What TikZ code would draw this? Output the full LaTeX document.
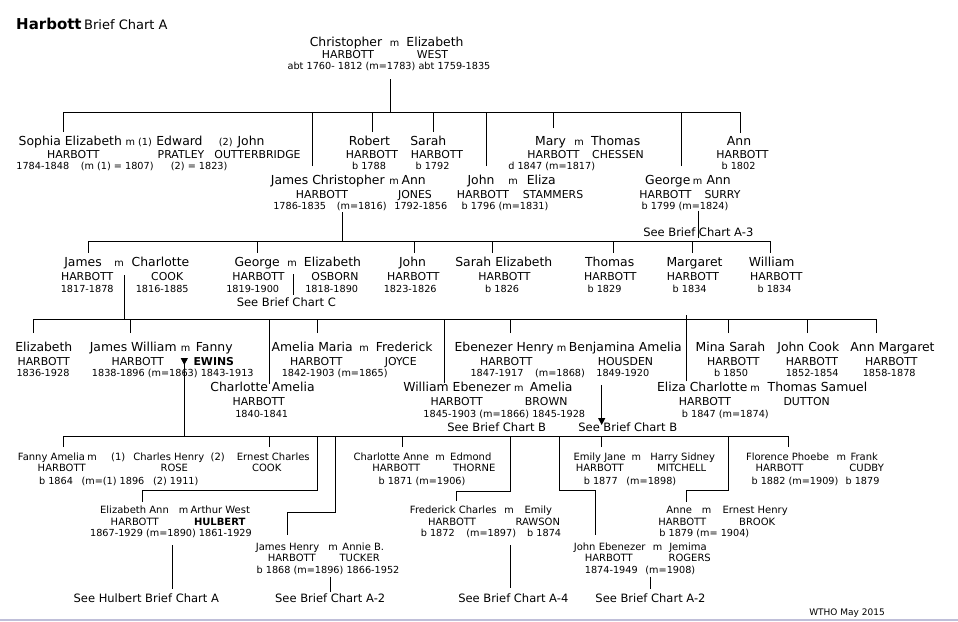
\documentclass[tikz,border=0pt]{standalone}
\usepackage{fontspec}
\setmainfont{DejaVu Sans}
\usepackage{tikz}
\usetikzlibrary{arrows.meta}

\tikzset{
  nm/.style={anchor=base, inner sep=0pt, font=\fontsize{12.4}{14}\selectfont},
  sn/.style={anchor=base, inner sep=0pt, font=\fontsize{10.9}{12}\selectfont},
  dt/.style={anchor=base, inner sep=0pt, font=\fontsize{9.7}{11}\selectfont},
  mm/.style={dt},
  nmv/.style={anchor=base, inner sep=0pt, font=\fontsize{10}{12}\selectfont},
  snv/.style={anchor=base, inner sep=0pt, font=\fontsize{10}{12}\selectfont},
  see/.style={anchor=base, inner sep=0pt, font=\fontsize{11.5}{13}\selectfont},
  ln/.style={line width=1pt},
  tip/.style={ln, -{Triangle[length=7pt,width=7pt]}}
}

\begin{document}
\begin{tikzpicture}[x=1pt, y=-1pt]
\fill[white] (0,0) rectangle (958,621);
\useasboundingbox (0,0) rectangle (958,621);
\fill[blue!25!gray!40] (0,619) rectangle (958,621);

% title
\node[anchor=base west, inner sep=0pt, font=\bfseries\fontsize{15}{18}\selectfont] (ttl) at (16,29.3) {Harbott};
\node[anchor=base west, inner sep=0pt, font=\fontsize{13}{15}\selectfont] (ttlb) at (84,29.3) {Brief Chart A};

% generation 1
\node[nm] (chris) at (346,46) {Christopher};
\node[mm] (chrism) at (394.5,46) {m};
\node[nm] (elizw) at (435,46) {Elizabeth};
\node[sn] (chriss) at (348,58) {HARBOTT};
\node[sn] (elizws) at (432.5,58) {WEST};
\node[dt] (chrisd) at (389,69) {abt 1760- 1812 (m=1783) abt 1759-1835};

% generation 2, upper row
\node[nm] (soph) at (70.3,145) {Sophia Elizabeth};
\node[mm] (sophm) at (138.7,145) {m (1)};
\node[nm] (edw) at (179.5,145) {Edward};
\node[mm] (sophm2) at (225.8,145) {(2)};
\node[nm] (johno) at (251,145) {John};
\node[sn] (sophs) at (73.3,158) {HARBOTT};
\node[sn] (edws) at (181,158) {PRATLEY};
\node[sn] (johnos) at (257.5,158) {OUTTERBRIDGE};
\node[dt] (sophd) at (42.8,169.5) {1784-1848};
\node[dt] (sophd1) at (117.2,169.5) {(m (1) = 1807)};
\node[dt] (sophd2) at (199.2,169.5) {(2) = 1823)};

\node[nm] (rob) at (369.5,145) {Robert};
\node[sn] (robs) at (372,158) {HARBOTT};
\node[dt] (robd) at (369,169.5) {b 1788};
\node[nm] (sar) at (428.3,145) {Sarah};
\node[sn] (sars) at (437,158) {HARBOTT};
\node[dt] (sard) at (432.5,169.5) {b 1792};

\node[nm] (mary) at (550.5,145) {Mary};
\node[mm] (marym) at (579,145) {m};
\node[nm] (thoc) at (615.7,145) {Thomas};
\node[sn] (marys) at (553.5,158) {HARBOTT};
\node[sn] (thocs) at (618,158) {CHESSEN};
\node[dt] (maryd) at (551.7,169.5) {d 1847 (m=1817)};

\node[nm] (ann) at (739,145) {Ann};
\node[sn] (anns) at (742.5,158) {HARBOTT};
\node[dt] (annd) at (738.5,169.5) {b 1802};

% generation 2, lower row
\node[nm] (jchr) at (327.8,184) {James Christopher};
\node[mm] (jchrm) at (394,184) {m};
\node[nm] (annj) at (413.7,184) {Ann};
\node[sn] (jchrs) at (322,198) {HARBOTT};
\node[sn] (annjs) at (415,198) {JONES};
\node[dt] (jchrd) at (299.7,209) {1786-1835};
\node[dt] (jchrdm) at (361.7,209) {(m=1816)};
\node[dt] (annjd) at (420.8,209) {1792-1856};

\node[nm] (john) at (481,184) {John};
\node[mm] (johnm) at (513,184) {m};
\node[nm] (eliza) at (541.3,184) {Eliza};
\node[sn] (johns) at (483,198) {HARBOTT};
\node[sn] (elizas) at (553,198) {STAMMERS};
\node[dt] (johnd) at (505,209) {b 1796 (m=1831)};

\node[nm] (geo) at (667.8,184) {George};
\node[mm] (geom) at (697.7,184) {m};
\node[nm] (anns2) at (718.7,184) {Ann};
\node[sn] (geos) at (665.5,198) {HARBOTT};
\node[sn] (annss) at (722.5,198) {SURRY};
\node[dt] (geod) at (685,209) {b 1799 (m=1824)};
\node[see] (geosee) at (698.3,236.7) {See Brief Chart A-3};

% generation 3
\node[nm] (jam) at (83,266.7) {James};
\node[mm] (jamm) at (119,266.7) {m};
\node[nm] (char) at (160.5,266.7) {Charlotte};
\node[sn] (jams) at (87.2,280.7) {HARBOTT};
\node[sn] (chars) at (167.2,280.7) {COOK};
\node[dt] (jamd) at (87.2,292.3) {1817-1878};
\node[dt] (chard) at (162.2,292.3) {1816-1885};

\node[nm] (geo3) at (257.2,266.7) {George};
\node[mm] (geo3m) at (292.2,266.7) {m};
\node[nm] (elizo) at (332.5,266.7) {Elizabeth};
\node[sn] (geo3s) at (258.5,280.7) {HARBOTT};
\node[sn] (elizos) at (335,280.7) {OSBORN};
\node[dt] (geo3d) at (252.7,292.3) {1819-1900};
\node[dt] (elizod) at (331.7,292.3) {1818-1890};
\node[see] (geo3see) at (286.3,306) {See Brief Chart C};

\node[nm] (john3) at (412.5,266.7) {John};
\node[sn] (john3s) at (413.3,280.7) {HARBOTT};
\node[dt] (john3d) at (410.2,292.3) {1823-1826};
\node[nm] (sare) at (503.8,266.7) {Sarah Elizabeth};
\node[sn] (sares) at (504.5,280.7) {HARBOTT};
\node[dt] (sared) at (502.2,292.3) {b 1826};
\node[nm] (tho3) at (609.7,266.7) {Thomas};
\node[sn] (tho3s) at (610.3,280.7) {HARBOTT};
\node[dt] (tho3d) at (604.5,292.3) {b 1829};
\node[nm] (marg) at (694.5,266.7) {Margaret};
\node[sn] (margs) at (693,280.7) {HARBOTT};
\node[dt] (margd) at (689.7,292.3) {b 1834};
\node[nm] (wil) at (771.7,266.7) {William};
\node[sn] (wils) at (776.3,280.7) {HARBOTT};
\node[dt] (wild) at (774.5,292.3) {b 1834};

% generation 4, upper row
\node[nm] (eliz4) at (43.8,351.7) {Elizabeth};
\node[sn] (eliz4s) at (43.7,365) {HARBOTT};
\node[dt] (eliz4d) at (43,376.7) {1836-1928};

\node[nm] (jw) at (133.2,351.7) {James William};
\node[mm] (jwm) at (185.7,351.7) {m};
\node[nm] (fan) at (214.3,351.7) {Fanny};
\node[sn] (jws) at (137.7,365) {HARBOTT};
\node[sn, font=\bfseries\fontsize{10.9}{12}\selectfont] (fans) at (213.8,365) {EWINS};
\node[dt] (jwd) at (172.8,376.7) {1838-1896 (m=1863) 1843-1913};

\node[nm] (amm) at (312.2,351.7) {Amelia Maria};
\node[mm] (ammm) at (364.2,351.7) {m};
\node[nm] (fred) at (404.2,351.7) {Frederick};
\node[sn] (amms) at (316.3,365) {HARBOTT};
\node[sn] (freds) at (400.8,365) {JOYCE};
\node[dt] (ammd) at (334.7,376.7) {1842-1903 (m=1865)};

\node[nm] (ebh) at (504.2,351.7) {Ebenezer Henry};
\node[mm] (ebhm) at (561.7,351.7) {m};
\node[nm] (benj) at (625.3,351.7) {Benjamina Amelia};
\node[sn] (ebhs) at (506.3,365) {HARBOTT};
\node[sn] (benjs) at (625.5,365) {HOUSDEN};
\node[dt] (ebhd) at (497,376.7) {1847-1917};
\node[dt] (ebhdm) at (560,376.7) {(m=1868)};
\node[dt] (benjd) at (622.8,376.7) {1849-1920};

\node[nm] (mina) at (730.5,351.7) {Mina Sarah};
\node[sn] (minas) at (733.3,365) {HARBOTT};
\node[dt] (minad) at (731.2,376.7) {b 1850};
\node[nm] (jcook) at (808.3,351.7) {John Cook};
\node[sn] (jcooks) at (812,365) {HARBOTT};
\node[dt] (jcookd) at (812.2,376.7) {1852-1854};
\node[nm] (annm) at (892.5,351.7) {Ann Margaret};
\node[sn] (annms) at (891.3,365) {HARBOTT};
\node[dt] (annmd) at (889.2,376.7) {1858-1878};

% generation 4, lower row
\node[nm] (chara) at (262.5,391.7) {Charlotte Amelia};
\node[sn] (charas) at (258.7,405.7) {HARBOTT};
\node[dt] (charad) at (261.7,417.3) {1840-1841};

\node[nm] (wile) at (457,391.7) {William Ebenezer};
\node[mm] (wilem) at (518.8,391.7) {m};
\node[nm] (ameb) at (551.2,391.7) {Amelia};
\node[sn] (wiles) at (456.7,405.7) {HARBOTT};
\node[sn] (amebs) at (546.2,405.7) {BROWN};
\node[dt] (wiled) at (504.3,417.3) {1845-1903 (m=1866) 1845-1928};
\node[see] (wilesee) at (496.7,431.7) {See Brief Chart B};
\node[see] (ebhsee) at (627.8,431.7) {See Brief Chart B};

\node[nm] (elc) at (702.2,391.7) {Eliza Charlotte};
\node[mm] (elcm) at (755,391.7) {m};
\node[nm] (thos) at (817.5,391.7) {Thomas Samuel};
\node[sn] (elcs) at (705,405.7) {HARBOTT};
\node[sn] (thoss) at (806.7,405.7) {DUTTON};
\node[dt] (elcd) at (725.3,417.3) {b 1847 (m=1874)};

% generation 5, upper row
\node[nmv] (fa) at (51.5,460) {Fanny Amelia};
\node[mm] (fam) at (92.2,460) {m};
\node[nmv] (fam1) at (118.3,460) {(1)};
\node[nmv] (chh) at (168.8,460) {Charles Henry};
\node[nmv] (fam2) at (217.8,460) {(2)};
\node[nmv] (erc) at (273.3,460) {Ernest Charles};
\node[snv] (fas) at (61.7,471.7) {HARBOTT};
\node[snv] (chhs) at (174.3,471.7) {ROSE};
\node[snv] (ercs) at (266.7,471.7) {COOK};
\node[dt] (fad) at (56,484) {b 1864};
\node[dt] (fad1) at (113,484) {(m=(1) 1896};
\node[dt] (fad2) at (175.8,484) {(2) 1911)};

\node[nmv] (cha) at (391.3,460) {Charlotte Anne};
\node[mm] (cham) at (440,460) {m};
\node[nmv] (edm) at (470.8,460) {Edmond};
\node[snv] (chas) at (396.3,471.7) {HARBOTT};
\node[snv] (edms) at (474.2,471.7) {THORNE};
\node[dt] (chad) at (422,484) {b 1871 (m=1906)};

\node[nmv] (emj) at (599.7,460) {Emily Jane};
\node[mm] (emjm) at (636.3,460) {m};
\node[nmv] (hsid) at (682.7,460) {Harry Sidney};
\node[snv] (emjs) at (599.7,471.7) {HARBOTT};
\node[snv] (hsids) at (681.7,471.7) {MITCHELL};
\node[dt] (emjd) at (600.8,484) {b 1877};
\node[dt] (emjdm) at (651.3,484) {(m=1898)};

\node[nmv] (flo) at (787.5,460) {Florence Phoebe};
\node[mm] (flom) at (841.3,460) {m};
\node[nmv] (frk) at (864.2,460) {Frank};
\node[snv] (flos) at (779.5,471.7) {HARBOTT};
\node[snv] (frks) at (866.7,471.7) {CUDBY};
\node[dt] (flod) at (795,484) {b 1882 (m=1909)};
\node[dt] (frkd) at (862.5,484) {b 1879};

% generation 5, middle row
\node[nmv] (ela) at (134.5,513.3) {Elizabeth Ann};
\node[mm] (elam) at (183.7,513.3) {m};
\node[nmv] (artw) at (220.3,513.3) {Arthur West};
\node[snv] (elas) at (134.7,525) {HARBOTT};
\node[snv, font=\bfseries\fontsize{10}{12}\selectfont] (artws) at (219.7,525) {HULBERT};
\node[dt] (elad) at (171,536.7) {1867-1929 (m=1890) 1861-1929};

\node[nmv] (frc) at (453.3,513.3) {Frederick Charles};
\node[mm] (frcm) at (509.2,513.3) {m};
\node[nmv] (emr) at (538.3,513.3) {Emily};
\node[snv] (frcs) at (452,525) {HARBOTT};
\node[snv] (emrs) at (537.8,525) {RAWSON};
\node[dt] (frcd) at (437.8,536.7) {b 1872};
\node[dt] (frcdm) at (491.2,536.7) {(m=1897)};
\node[dt] (emrd) at (544.2,536.7) {b 1874};

\node[nmv] (anne) at (679.2,513.3) {Anne};
\node[mm] (annem) at (706.5,513.3) {m};
\node[nmv] (ernh) at (755.2,513.3) {Ernest Henry};
\node[snv] (annes) at (682.2,525) {HARBOTT};
\node[snv] (ernhs) at (757.2,525) {BROOK};
\node[dt] (anned) at (704.3,536.7) {b 1879 (m= 1904)};

% generation 5, lower row
\node[nmv] (jh) at (287.5,550) {James Henry};
\node[mm] (jhm) at (333,550) {m};
\node[nmv] (annb) at (363.3,550) {Annie B.};
\node[snv] (jhs) at (291.8,561.7) {HARBOTT};
\node[snv] (annbs) at (359.7,561.7) {TUCKER};
\node[dt] (jhd) at (328,573.3) {b 1868 (m=1896) 1866-1952};

\node[nmv] (je) at (609.7,550) {John Ebenezer};
\node[mm] (jem) at (657.7,550) {m};
\node[nmv] (jem2) at (688,550) {Jemima};
\node[snv] (jes) at (608.8,561.7) {HARBOTT};
\node[snv] (jem2s) at (689.7,561.7) {ROGERS};
\node[dt] (jed) at (611.3,573.3) {1874-1949};
\node[dt] (jedm) at (670.3,573.3) {(m=1908)};

\node[see] (elasee) at (146.3,602.7) {See Hulbert Brief Chart A};
\node[see] (jhsee) at (330.2,602.7) {See Brief Chart A-2};
\node[see] (frcsee) at (513.3,602.7) {See Brief Chart A-4};
\node[see] (jesee) at (650.5,602.7) {See Brief Chart A-2};
\node[anchor=base, inner sep=0pt, font=\fontsize{9}{10}\selectfont] (wtho) at (847,615) {WTHO May 2015};

% lines: generation 1 to 2
\coordinate (d-chris) at (390,79);
\coordinate (bus1a) at (63,112);
\coordinate (bus1b) at (740,112);
\coordinate (t-soph) at (63,132);
\coordinate (t-jchr) at (312,166);
\coordinate (t-rob) at (372,132);
\coordinate (t-sar) at (433,132);
\coordinate (t-john) at (486,166);
\coordinate (t-mary) at (553,128);
\coordinate (t-geo) at (681,166);
\coordinate (t-ann) at (740,133);
\draw[ln] (d-chris) -- (d-chris |- bus1a);
\draw[ln] (bus1a) -- (bus1b);
\foreach \p in {soph,jchr,rob,sar,john,mary,geo,ann}
  \draw[ln] (t-\p) -- (t-\p |- bus1a);

% generation 2 to 3
\coordinate (d-jchr) at (342,212);
\coordinate (bus2a) at (88.3,241.7);
\coordinate (bus2b) at (770.7,241.7);
\coordinate (t-jam) at (88.3,252.7);
\coordinate (t-geo3) at (257.3,252.7);
\coordinate (t-john3) at (414.3,252.7);
\coordinate (t-sare) at (492.3,252.7);
\coordinate (t-tho3) at (613.3,252.7);
\coordinate (t-marg) at (692.3,252.7);
\coordinate (t-wil) at (770.7,252.7);
\draw[ln] (d-jchr) -- (d-jchr |- bus2a);
\draw[ln] (bus2a) -- (bus2b);
\foreach \p in {jam,geo3,john3,sare,tho3,marg,wil}
  \draw[ln] (t-\p) -- (t-\p |- bus2a);
\coordinate (d-geo) at (698.3,210.7);
\coordinate (e-geo) at (698.3,238.3);
\draw[ln] (d-geo) -- (e-geo);
\coordinate (d-geo3) at (293.3,274);
\coordinate (e-geo3) at (293.3,295);
\draw[ln] (d-geo3) -- (e-geo3);

% generation 3 to 4
\coordinate (d-jam) at (124.3,275);
\coordinate (bus3a) at (33.3,319);
\coordinate (bus3b) at (876,319);
\coordinate (t-eliz4) at (33.3,333);
\coordinate (t-jw) at (130,333);
\coordinate (t-chara) at (269.3,384);
\coordinate (t-amm) at (317.3,333);
\coordinate (t-wile) at (444.3,383);
\coordinate (t-ebh) at (510.7,333);
\coordinate (t-elc) at (686.7,381);
\coordinate (t-mina) at (728.3,333);
\coordinate (t-jcook) at (807.3,333);
\coordinate (t-annm) at (876,333);
\draw[ln] (d-jam) -- (d-jam |- bus3a);
\draw[ln] (bus3a) -- (bus3b);
\foreach \p in {eliz4,jw,chara,amm,wile,ebh,elc,mina,jcook,annm}
  \draw[ln] (t-\p) -- (t-\p |- bus3a);
\draw[ln] (t-elc) -- ++(0,-66);

% generation 4 to 5
\coordinate (d-jw) at (184.3,358);
\coordinate (bus4a) at (63.3,436.3);
\coordinate (bus4b) at (788.3,436.3);
\draw[ln, {Triangle[reversed,length=7pt,width=7pt]}-] (d-jw) -- (d-jw |- bus4a);
\coordinate (d-ben) at (601.7,385);
\coordinate (e-ben) at (601.7,425);
\draw[tip] (d-ben) -- (e-ben);
\draw[ln] (bus4a) -- (bus4b);
\coordinate (t-fa) at (63.3,447);
\coordinate (t-erc) at (269.3,447);
\coordinate (t-cha) at (402.3,447);
\coordinate (t-emj) at (601.7,447);
\coordinate (t-flo) at (788.3,447);
\foreach \p in {fa,erc,cha,emj,flo}
  \draw[ln] (t-\p) -- (t-\p |- bus4a);
\coordinate (k-ela) at (317.3,490.7);
\coordinate (t-ela) at (142.7,501.7);
\coordinate (k-jh) at (335,512.3);
\coordinate (t-jh) at (287.3,535);
\coordinate (k-frc) at (510.7,491);
\coordinate (t-frc) at (456.7,500.7);
\coordinate (k-je) at (559.3,490.7);
\coordinate (t-je) at (595.7,535);
\coordinate (k-anne) at (728.3,490.7);
\coordinate (t-anne) at (686.7,501.7);
\foreach \p in {ela,jh,frc,je,anne}
  \draw[ln] (k-\p |- bus4a) -- (k-\p) -| (t-\p);

% generation 5 to further charts
\coordinate (d-ela) at (172.3,545);
\coordinate (d-jh) at (330,576.7);
\coordinate (d-frc) at (510.7,545);
\coordinate (d-je) at (650,576.7);
\draw[ln] (d-ela) -- ++(0,44);
\draw[ln] (d-jh) -- ++(0,15.6);
\draw[ln] (d-frc) -- ++(0,43.3);
\draw[ln] (d-je) -- ++(0,12.6);
\end{tikzpicture}
\end{document}
